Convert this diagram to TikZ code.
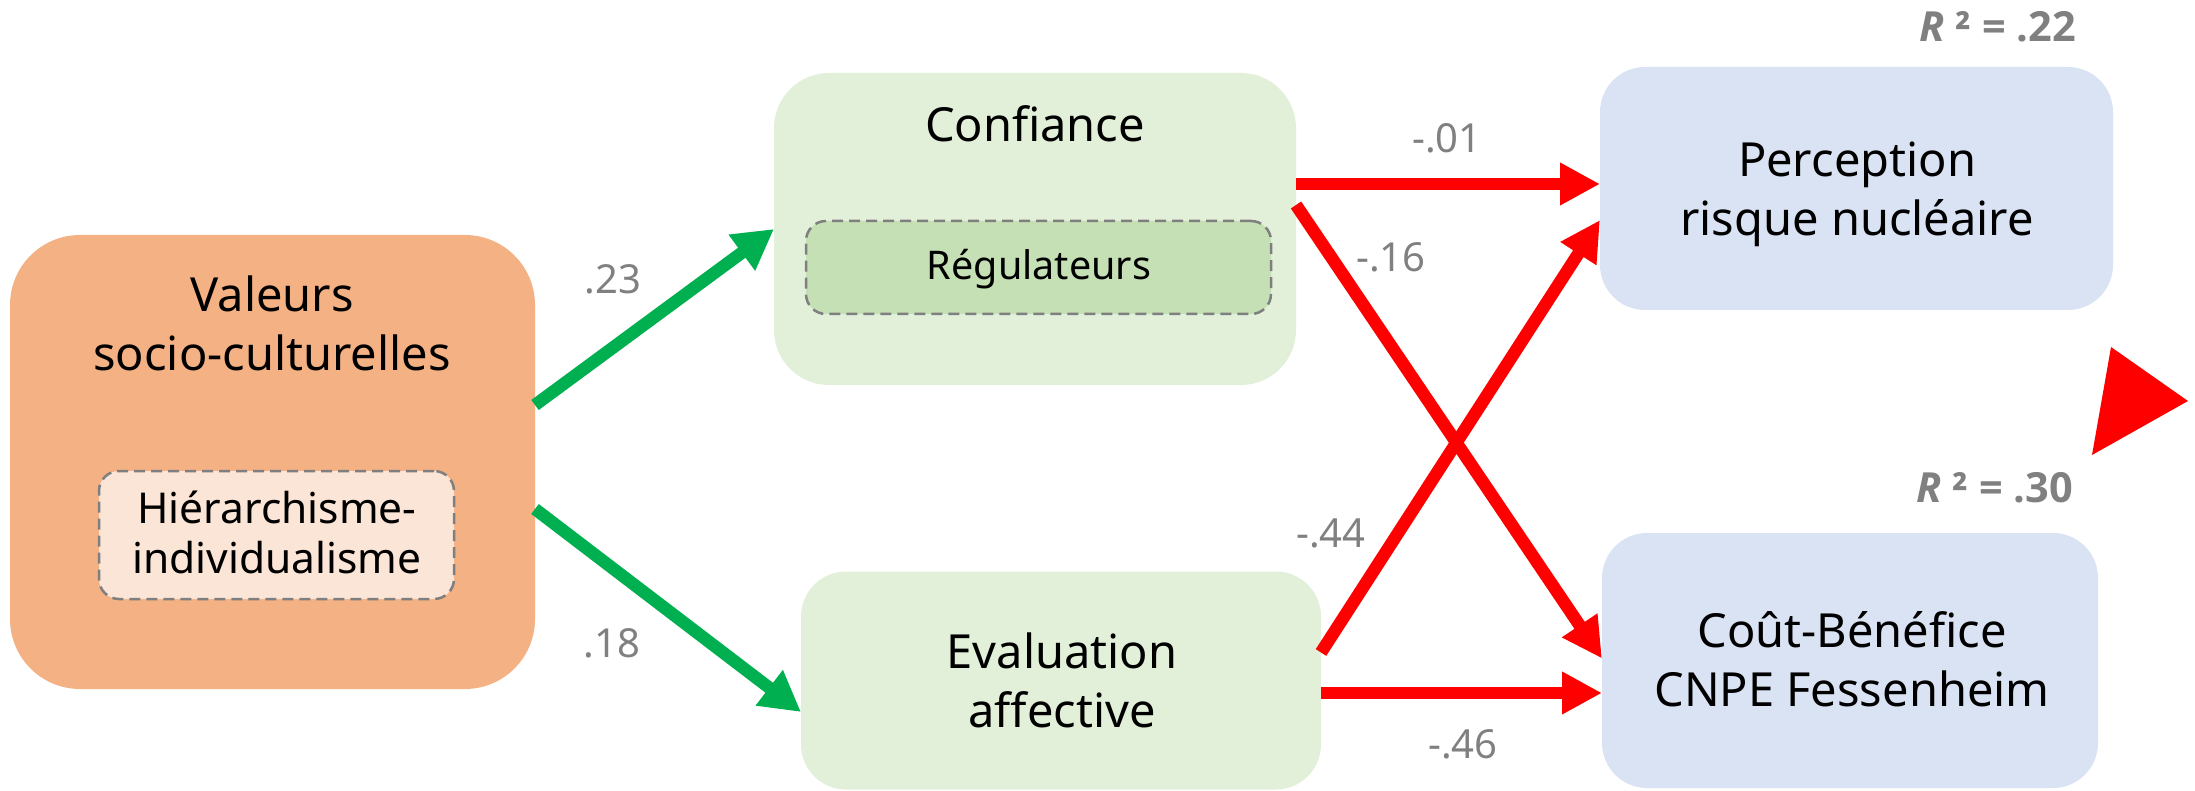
\documentclass[tikz,border=0pt]{standalone}
\usepackage{fontspec}
\setmainfont{Noto Sans}
\newfontfamily\rsqfont{Open Sans}
\usetikzlibrary{arrows.meta}
\definecolor{valfill}{HTML}{F4B183}
\definecolor{valin}{HTML}{FBE5D6}
\definecolor{greenfill}{HTML}{E2F0D9}
\definecolor{greenin}{HTML}{C5E0B4}
\definecolor{bluefill}{HTML}{DAE3F3}
\definecolor{dashgray}{HTML}{7F7F7F}
\definecolor{labgray}{HTML}{808080}
\definecolor{arrgreen}{HTML}{00B050}
\definecolor{arrred}{HTML}{FF0000}
\newcommand{\twoline}[2]{\begin{tabular}[t]{@{}c@{}}#1\\#2\end{tabular}}
\begin{document}
\begin{tikzpicture}[x=1pt,y=-1pt,
  box/.style={rectangle, rounded corners=#1, inner sep=0pt, outer sep=0pt},
  inbox/.style={rectangle, rounded corners=20pt, draw=dashgray, dash pattern=on 11pt off 6pt, line width=2.5pt, inner sep=0pt},
  bigtxt/.style={anchor=base, inner sep=0pt, font=\fontsize{47}{59}\selectfont},
  midtxt/.style={anchor=base, inner sep=0pt, font=\fontsize{42.5}{50}\selectfont},
  coef/.style={anchor=base, inner sep=0pt, text=labgray, font=\fontsize{40}{48}\selectfont},
  rsq/.style={anchor=base, inner sep=0pt, text=labgray, font=\fontsize{41.5}{50}\rsqfont\bfseries},
  garrow/.style={draw=arrgreen, line width=12.5pt, -{Triangle[length=40pt,width=42pt]}},
  rarrow/.style={draw=arrred, line width=12.5pt, -{Triangle[length=40pt,width=40pt]}}
]
\useasboundingbox (0,0) rectangle (2195,791);

% boxes
\node[box=70pt, fill=valfill, minimum width=525pt, minimum height=454pt] (val) at (272.5,462) {};
\node[inbox, fill=valin, minimum width=355pt, minimum height=128pt] (hier) at (276.5,535) {};
\node[box=55pt, fill=greenfill, minimum width=522pt, minimum height=312pt] (conf) at (1035,229) {};
\node[inbox, fill=greenin, minimum width=465pt, minimum height=93pt] (reg) at (1038.5,267.5) {};
\node[box=45pt, fill=greenfill, minimum width=520pt, minimum height=218pt] (eval) at (1061,680.5) {};
\node[box=45pt, fill=bluefill, minimum width=513pt, minimum height=243pt] (perc) at (1856.5,188.5) {};
\node[box=45pt, fill=bluefill, minimum width=496pt, minimum height=255pt] (cout) at (1850,660.5) {};

% texts
\node[bigtxt] (valt) at (272,312) {\twoline{Valeurs}{socio-culturelles}};
\node[midtxt] (hiert) at (277,523) {\twoline{Hiérarchisme-}{individualisme}};
\node[bigtxt] (conft) at (1035,142) {Confiance};
\node[midtxt, font=\fontsize{39.5}{47}\selectfont] (regt) at (1039,280) {Régulateurs};
\node[bigtxt] (perct) at (1857,177) {\twoline{Perception}{risque nucléaire}};
\node[bigtxt] (evalt) at (1062,668) {\twoline{Evaluation}{affective}};
\node[bigtxt] (coutt) at (1852,647) {\twoline{Coût-Bénéfice}{CNPE Fessenheim}};

% R2 labels
\node[rsq] (r1) at (1998,42) {{\itshape R} ² = .22};
\node[rsq] (r2) at (1995,502) {{\itshape R} ² = .30};

% arrows
\draw[garrow] ([yshift=57pt]val.east) -- (conf.west);
\draw[garrow] ([yshift=-47pt]val.east) -- ([yshift=-31.5pt]eval.west);
\draw[rarrow] ([yshift=45pt]conf.east) -- ([yshift=4.5pt]perc.west);
\draw[rarrow] ([yshift=24pt]conf.east) -- ([yshift=2pt]cout.west);
\draw[rarrow] ([yshift=28pt]eval.east) -- ([yshift=-31.5pt]perc.west);
\draw[rarrow] ([yshift=-12.5pt]eval.east) -- ([yshift=-32.5pt]cout.west);

% coefficients
\node[coef] (c1) at (613,294) {.23};
\node[coef] (c2) at (612,657) {.18};
\node[coef] (c3) at (1447,153) {-.01};
\node[coef] (c4) at (1391,272) {-.16};
\node[coef] (c5) at (1331,547) {-.44};
\node[coef] (c6) at (1463,758) {-.46};

% stray red triangle
\fill[arrred] (2111,347) -- (2188,401) -- (2092,455) -- cycle;
\end{tikzpicture}
\end{document}
